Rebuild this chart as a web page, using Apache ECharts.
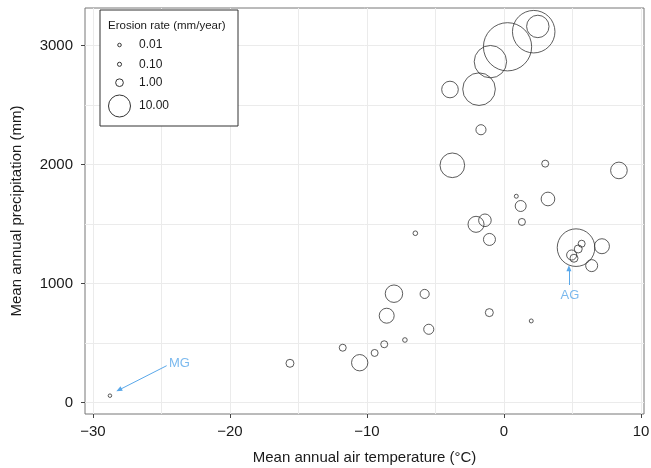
<!DOCTYPE html>
<html><head><meta charset="utf-8">
<script src="https://cdn.jsdelivr.net/npm/echarts@6/dist/echarts.min.js"></script>
<style>html,body{margin:0;padding:0;background:#fff}#c{width:651px;height:468px}</style>
</head><body><div id="c"></div>
<script>
// ---- data ----
const temperature = [0.26, 2.17, 2.47, -0.99, -1.82, -3.94, -1.68, -3.77, 3.01, 8.39, 0.9, 1.22, 3.21, 1.31, -2.04, -1.39, -1.06, 5.26, 7.15, 6.4, 5.67, 5.42, 4.94, 5.11, -5.79, -1.07, 1.99, -5.49, -8.03, -8.56, -7.23, -8.74, -9.44, -10.53, -11.77, -15.62, -28.76, -6.47];
const precipitation = [2989, 3116, 3160, 2864, 2633, 2630, 2292, 1993, 2007, 1950, 1733, 1651, 1710, 1517, 1497, 1531, 1370, 1301, 1313, 1150, 1334, 1290, 1239, 1212, 912, 755, 685, 615, 914, 729, 525, 489, 416, 334, 460, 329, 57, 1422];
const erosionRate = [49, 38, 10.4, 22, 22.3, 5.6, 1.9, 12.6, 0.78, 5.6, 0.08, 2.3, 3.7, 0.78, 5.2, 3.1, 2.8, 29.7, 4.5, 2.8, 0.78, 1.1, 1.9, 1.1, 1.5, 1.1, 0.08, 1.9, 6.2, 4.5, 0.2, 0.78, 0.78, 5.4, 0.78, 1.1, 0.01, 0.2];

const legendRates = [0.01, 0.1, 1, 10];
const legendLabels = ['0.01', '0.10', '1.00', '10.00'];
const legendTitle = 'Erosion rate (mm/year)';

const xTicks = [-30, -20, -10, 0, 10];
const xGrid = [-30, -25, -20, -15, -10, -5, 0, 5, 10];
const yTicks = [0, 1000, 2000, 3000];
const yGrid = [0, 500, 1000, 1500, 2000, 2500, 3000];

const xTitle = 'Mean annual air temperature (\u00B0C)';
const yTitle = 'Mean annual precipitation (mm)';

// annotations: label position and arrow start/end (data coords)
const annoNames = ['MG', 'AG'];
const annoLabelPos = [[-24.45, 329], [4.82, 897]];
const annoArrowFrom = [[-24.62, 309], [4.74, 987]];
const annoArrowTo = [[-28.1, 105], [4.74, 1128]];

// ---- rendering ----
const FONT = '"Liberation Sans", Arial, Helvetica, sans-serif';
const ANNO = '#5aa8ea';
function radius(v) { return Math.sqrt(3 + 11.8 * v); }

const chart = echarts.init(document.getElementById('c'), null, {renderer: 'canvas'});

const pts = temperature.map((t, i) => [t, precipitation[i], erosionRate[i]]);

const xMin = -30.58, xMax = 10.22, yMin = -97, yMax = 3315;

const legendTop = 10, legendLeft = 100;
const legendRowY = [45, 64.3, 82.7, 106];
const legendGraphics = [
  {type: 'rect', shape: {x: legendLeft, y: legendTop, width: 138, height: 116},
   style: {fill: '#fff', stroke: '#333', lineWidth: 1}, z: 100},
  {type: 'text', x: 108, y: 26, style: {text: legendTitle, font: '11.5px ' + FONT, fill: '#1a1a1a', textVerticalAlign: 'middle', verticalAlign: 'middle'}, z: 101}
];
legendRates.forEach((v, i) => {
  legendGraphics.push({type: 'circle', shape: {cx: 119.5, cy: legendRowY[i], r: radius(v)},
    style: {fill: 'none', stroke: '#333', lineWidth: 1}, z: 101});
  legendGraphics.push({type: 'text', x: 139, y: legendRowY[i],
    style: {text: legendLabels[i], font: '12px ' + FONT, fill: '#1a1a1a', verticalAlign: 'middle', textVerticalAlign: 'middle'}, z: 101});
});

const minusFmt = v => String(v).replace('-', '\u2212');

chart.setOption({
  animation: false,
  backgroundColor: '#fff',
  textStyle: {fontFamily: FONT},
  grid: {left: 85, right: 7, top: 8, bottom: 54, show: true, borderColor: '#777', borderWidth: 1,
         backgroundColor: 'transparent', containLabel: false, outerBoundsMode: 'none'},
  xAxis: [
    {type: 'value', min: xMin, max: xMax, position: 'bottom',
     axisLine: {show: false, onZero: false},
     axisTick: {show: true, length: 4, lineStyle: {color: '#444'}, customValues: xTicks},
     axisLabel: {customValues: xTicks, formatter: minusFmt, fontSize: 15, color: '#1a1a1a', margin: 10, fontFamily: FONT},
     splitLine: {show: false},
     name: xTitle, nameLocation: 'middle', nameGap: 36,
     nameTextStyle: {fontSize: 15, color: '#1a1a1a', fontFamily: FONT}},
    {type: 'value', min: xMin, max: xMax, position: 'top',
     axisLine: {show: false, onZero: false}, axisTick: {show: false, customValues: xGrid}, axisLabel: {show: false},
     splitLine: {show: true, lineStyle: {color: '#ebebeb', width: 1}}}
  ],
  yAxis: [
    {type: 'value', min: yMin, max: yMax, position: 'left',
     axisLine: {show: false, onZero: false},
     axisTick: {show: true, length: 4, lineStyle: {color: '#444'}, customValues: yTicks},
     axisLabel: {customValues: yTicks, formatter: v => String(v), fontSize: 15, color: '#1a1a1a', margin: 12, fontFamily: FONT},
     splitLine: {show: false},
     name: yTitle, nameLocation: 'middle', nameGap: 61,
     nameTextStyle: {fontSize: 15, color: '#1a1a1a', fontFamily: FONT}},
    {type: 'value', min: yMin, max: yMax, position: 'right',
     axisLine: {show: false, onZero: false}, axisTick: {show: false, customValues: yGrid}, axisLabel: {show: false},
     splitLine: {show: true, lineStyle: {color: '#ebebeb', width: 1}}}
  ],
  series: [
    {type: 'scatter', xAxisIndex: 0, yAxisIndex: 0, data: pts,
     symbol: 'circle',
     symbolSize: v => 2 * radius(v[2]),
     itemStyle: {color: 'rgba(0,0,0,0)', borderColor: '#333', borderWidth: 1},
     emphasis: {disabled: true}, silent: true, z: 5},
    {type: 'scatter', xAxisIndex: 0, yAxisIndex: 0,
     data: annoNames.map((n, i) => ({
       name: n, value: annoLabelPos[i],
       label: {position: i === 0 ? 'right' : 'inside', distance: 0}
     })),
     symbolSize: 0,
     label: {show: true, formatter: '{b}', color: ANNO, fontSize: 13, fontFamily: FONT},
     emphasis: {disabled: true}, silent: true, z: 6,
     markLine: {
       silent: true, animation: false,
       symbol: ['none', 'triangle'], symbolSize: [5, 6],
       lineStyle: {color: ANNO, width: 1, type: 'solid'},
       label: {show: false},
       emphasis: {disabled: true},
       data: annoNames.map((n, i) => [{coord: annoArrowFrom[i]}, {coord: annoArrowTo[i]}])
     }}
  ],
  graphic: legendGraphics
});
</script></body></html>
